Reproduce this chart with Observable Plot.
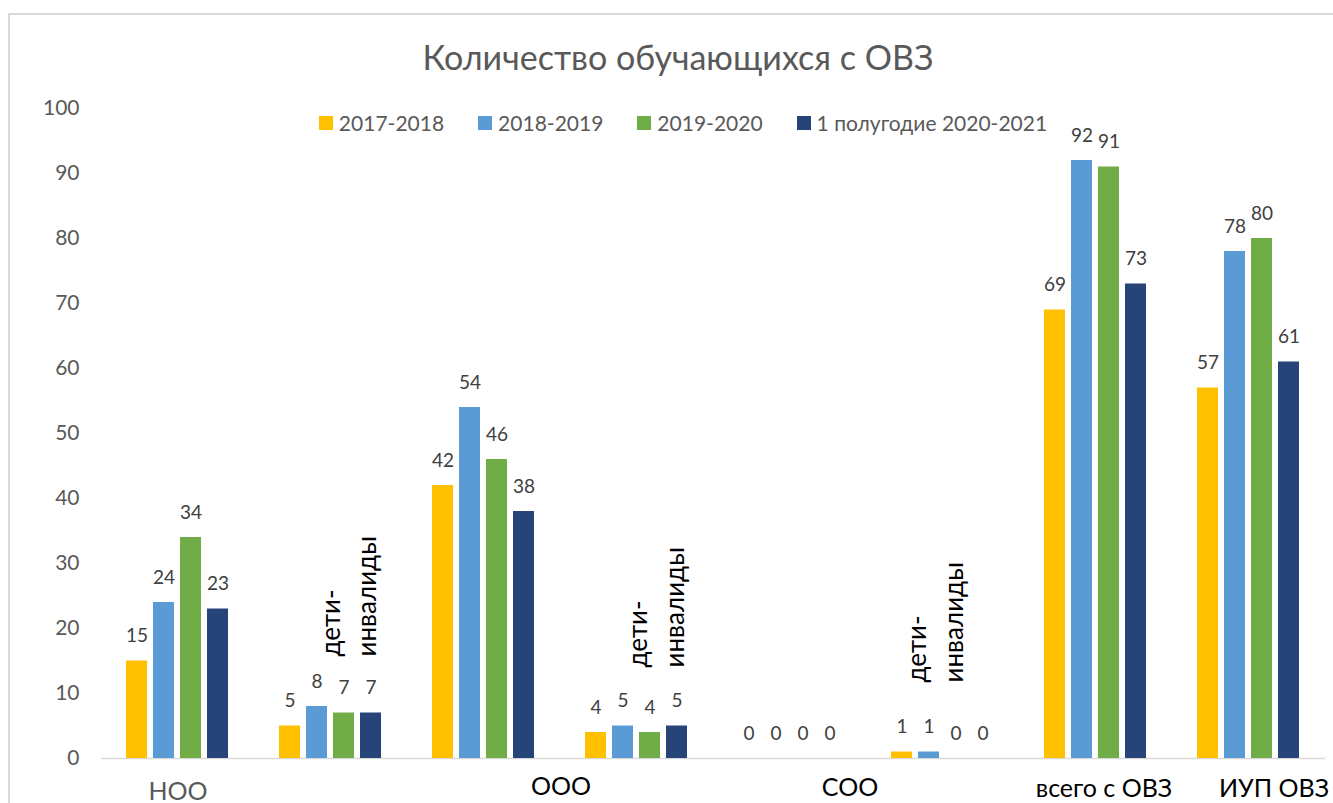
<!DOCTYPE html>
<html>
<head>
<meta charset="utf-8">
<script src="https://cdn.jsdelivr.net/npm/d3@7"></script>
<script src="https://cdn.jsdelivr.net/npm/@observablehq/plot@0.6"></script>
<style>
  html, body { margin: 0; padding: 0; background: #fff; overflow: hidden; width: 1333px; height: 803px; }
  #frame { position: absolute; left: 8px; top: 13px; width: 1400px; height: 900px; border: 2px solid #D9D9D9; box-sizing: border-box; }
  #chart { position: absolute; left: 0; top: 0; }
  #title { position: absolute; left: 0; width: 1356px; top: 36px; text-align: center; font-family: Lato, sans-serif; font-size: 34px; color: #595959; white-space: nowrap; }
  #legend { position: absolute; left: 0; width: 1366px; top: 110px; display: flex; justify-content: center; font-family: Lato, sans-serif; font-size: 21px; color: #595959; }
  .item { display: flex; align-items: center; margin: 0 17px; }
  .sw { width: 14px; height: 14px; margin-right: 6px; }
</style>
</head>
<body>
<div id="frame"></div>
<div id="chart"></div>
<div id="title"></div>
<div id="legend"></div>
<script>
const title = "Количество обучающихся с ОВЗ";
const categories = ["НОО", "дети-\nинвалиды", "ООО", "дети-\nинвалиды", "СОО", "дети-\nинвалиды", "всего с ОВЗ", "ИУП ОВЗ"];
const series = ["2017-2018", "2018-2019", "2019-2020", "1 полугодие 2020-2021"];
const values2017 = [15, 5, 42, 4, 0, 1, 69, 57];
const values2018 = [24, 8, 54, 5, 0, 1, 92, 78];
const values2019 = [34, 7, 46, 4, 0, 0, 91, 80];
const values2020 = [23, 7, 38, 5, 0, 0, 73, 61];
const yTicks = [0, 10, 20, 30, 40, 50, 60, 70, 80, 90, 100];
const colors = ["#FFC000", "#5B9BD5", "#70AD47", "#264478"];

const seriesValues = [values2017, values2018, values2019, values2020];
const rows = [];
categories.forEach((c, g) => {
  series.forEach((s, j) => rows.push({g, series: s, value: seriesValues[j][g]}));
});

document.getElementById("title").textContent = title;
const legend = document.getElementById("legend");
series.forEach((s, j) => {
  const it = document.createElement("div");
  it.className = "item";
  const sw = document.createElement("div");
  sw.className = "sw";
  sw.style.background = colors[j];
  const t = document.createElement("span");
  t.textContent = s;
  it.appendChild(sw); it.appendChild(t);
  legend.appendChild(it);
});

// label placement (styling, in pixels)
const bottomLabels = [
  {g: 0, dx: 0, dy: 24, fill: "#595959"},
  {g: 2, dx: 77, dy: 19, fill: "#000"},
  {g: 4, dx: 60, dy: 20, fill: "#000"},
  {g: 6, dx: 8, dy: 21, fill: "#000"},
  {g: 7, dx: 25, dy: 21, fill: "#000"}
];
const rotatedLabels = [
  {g: 1, dx: 15.5, dy: -102},
  {g: 3, dx: 17, dy: -91},
  {g: 5, dx: -10, dy: -76}
];

const marks = [
  Plot.ruleY([0], {stroke: "#D9D9D9", strokeWidth: 1.5}),
  Plot.barY(rows, {fx: "g", x: "series", y: "value", fill: "series"}),
  Plot.text(rows, {fx: "g", x: "series", y: "value", text: d => String(d.value), dy: -25, fontSize: 19, fill: "#404040"}),
  Plot.axisY({ticks: yTicks, tickSize: 0, tickPadding: 22, fontSize: 21, fill: "#595959", label: null})
];
bottomLabels.forEach(b => {
  marks.push(Plot.text([categories[b.g]], {fx: () => b.g, y: () => 0, text: d => d, dx: b.dx, dy: b.dy, lineAnchor: "top", fontSize: 25, fill: b.fill}));
});
rotatedLabels.forEach(r => {
  marks.push(Plot.text([categories[r.g]], {fx: () => r.g, frameAnchor: "bottom", text: d => d, rotate: -90, textAnchor: "start", lineAnchor: "middle", lineHeight: 1.4, dx: r.dx, dy: r.dy, fontSize: 26, fill: "#000"}));
});

const chart = Plot.plot({
  width: 1333,
  height: 830,
  marginTop: 108,
  marginBottom: 72,
  marginLeft: 98,
  marginRight: 5.4,
  style: {fontFamily: "Lato, sans-serif", background: "transparent", overflow: "visible"},
  fx: {domain: d3.range(categories.length), padding: 0, axis: null},
  x: {domain: series, paddingInner: 0.22, paddingOuter: 0.875, axis: null},
  y: {domain: [0, 100], axis: null},
  color: {domain: series, range: colors},
  marks
});
document.getElementById("chart").appendChild(chart);
</script>
</body>
</html>
